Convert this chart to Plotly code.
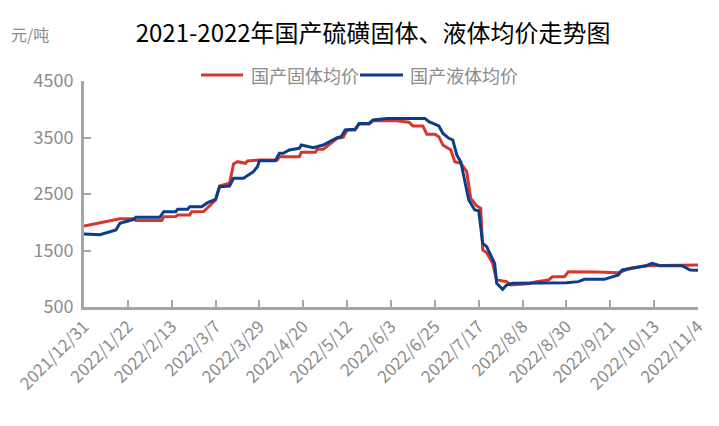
import plotly.graph_objects as go

# ---- data ----
solid_dates = ["2021-12-31", "2022-01-18", "2022-01-25", "2022-01-26", "2022-02-08", "2022-02-09",
               "2022-02-15", "2022-02-16", "2022-02-22", "2022-02-23", "2022-03-01", "2022-03-07",
               "2022-03-09", "2022-03-14", "2022-03-16", "2022-03-18", "2022-03-22", "2022-03-23",
               "2022-03-29", "2022-04-07", "2022-04-08", "2022-04-18", "2022-04-19", "2022-04-26",
               "2022-04-27", "2022-04-30", "2022-05-07", "2022-05-10", "2022-05-12", "2022-05-16",
               "2022-05-18", "2022-05-23", "2022-05-25", "2022-06-06", "2022-06-12", "2022-06-14",
               "2022-06-19", "2022-06-21", "2022-06-25", "2022-06-27", "2022-06-29", "2022-07-03",
               "2022-07-05", "2022-07-08", "2022-07-11", "2022-07-13", "2022-07-16", "2022-07-18",
               "2022-07-19", "2022-07-21", "2022-07-24", "2022-07-26", "2022-07-31", "2022-08-02",
               "2022-08-11", "2022-08-15", "2022-08-21", "2022-08-23", "2022-08-29", "2022-08-31",
               "2022-09-14", "2022-09-25", "2022-10-01", "2022-10-09", "2022-11-04"]
solid_values = [1935, 2060, 2060, 2030, 2030, 2098,
                2100, 2128, 2128, 2187, 2190, 2394,
                2641, 2689, 3031, 3072, 3043, 3084,
                3100, 3100, 3160, 3160, 3238, 3238,
                3291, 3291, 3486, 3503, 3633, 3633,
                3739, 3739, 3797, 3797, 3770, 3704,
                3704, 3557, 3557, 3514, 3367, 3279,
                3072, 3043, 2895, 2420, 2290, 2247,
                1509, 1461, 1273, 980, 950, 890,
                912, 949, 978, 1036, 1036, 1125,
                1120, 1107, 1185, 1231, 1245]

liquid_dates = ["2021-12-31", "2022-01-08", "2022-01-16", "2022-01-18", "2022-01-25", "2022-01-26",
                "2022-02-07", "2022-02-09", "2022-02-15", "2022-02-16", "2022-02-21", "2022-02-22",
                "2022-02-28", "2022-03-03", "2022-03-07", "2022-03-09", "2022-03-14", "2022-03-16",
                "2022-03-21", "2022-03-26", "2022-03-28", "2022-03-29", "2022-04-06", "2022-04-08",
                "2022-04-10", "2022-04-13", "2022-04-18", "2022-04-19", "2022-04-25", "2022-04-30",
                "2022-05-07", "2022-05-09", "2022-05-11", "2022-05-16", "2022-05-18", "2022-05-23",
                "2022-05-25", "2022-06-01", "2022-06-20", "2022-06-22", "2022-06-27", "2022-06-29",
                "2022-07-02", "2022-07-04", "2022-07-06", "2022-07-08", "2022-07-12", "2022-07-15",
                "2022-07-17", "2022-07-19", "2022-07-21", "2022-07-25", "2022-07-26", "2022-07-29",
                "2022-07-31", "2022-08-03", "2022-08-30", "2022-09-05", "2022-09-08", "2022-09-18",
                "2022-09-25", "2022-09-27", "2022-10-09", "2022-10-12", "2022-10-16", "2022-10-27",
                "2022-10-31", "2022-11-04"]
liquid_values = [1790, 1780, 1863, 1981, 2052, 2087,
                 2087, 2187, 2187, 2228, 2228, 2276,
                 2276, 2346, 2405, 2629, 2640, 2777,
                 2777, 2895, 2983, 3090, 3090, 3220,
                 3220, 3279, 3309, 3367, 3321, 3367,
                 3497, 3514, 3633, 3644, 3750, 3750,
                 3810, 3838, 3838, 3780, 3704, 3575,
                 3486, 3456, 3190, 3072, 2394, 2217,
                 2204, 1627, 1567, 1273, 919, 813,
                 889, 919, 930, 949, 990, 990,
                 1066, 1155, 1231, 1273, 1231, 1231,
                 1155, 1150]

tick_dates = ["2021-12-31", "2022-01-22", "2022-02-13", "2022-03-07", "2022-03-29",
              "2022-04-20", "2022-05-12", "2022-06-03", "2022-06-25", "2022-07-17",
              "2022-08-08", "2022-08-30", "2022-09-21", "2022-10-13", "2022-11-04"]
tick_labels = ["2021/12/31", "2022/1/22", "2022/2/13", "2022/3/7", "2022/3/29",
               "2022/4/20", "2022/5/12", "2022/6/3", "2022/6/25", "2022/7/17",
               "2022/8/8", "2022/8/30", "2022/9/21", "2022/10/13", "2022/11/4"]
y_ticks = [500, 1500, 2500, 3500, 4500]

series_names = ["国产固体均价", "国产液体均价"]
series_colors = ["#D7372B", "#0B3D8C"]
title_text = "2021-2022年国产硫磺固体、液体均价走势图"
unit_text = "元/吨"

# ---- figure ----
FONT = "Noto Sans CJK SC"
GRAY = "#8C8C8C"
AXIS = "#A6A6A6"

fig = go.Figure()
fig.add_trace(go.Scatter(x=solid_dates, y=solid_values, mode="lines", name=series_names[0],
                         line=dict(color=series_colors[0], width=3)))
fig.add_trace(go.Scatter(x=liquid_dates, y=liquid_values, mode="lines", name=series_names[1],
                         line=dict(color=series_colors[1], width=3)))

# legend drawn as shapes + text (positions in paper coordinates)
legend_line_x = [(0.1906, 0.2590), (0.4495, 0.5195)]
legend_text_x = [0.2687, 0.5277]
legend_y = 1.0265
shapes = []
annotations = []
for i in range(2):
    shapes.append(dict(type="line", xref="paper", yref="paper",
                       x0=legend_line_x[i][0], x1=legend_line_x[i][1], y0=legend_y, y1=legend_y,
                       line=dict(color=series_colors[i], width=3)))
    annotations.append(dict(text=series_names[i], xref="paper", yref="paper",
                            x=legend_text_x[i], y=legend_y, xanchor="left", yanchor="middle",
                            showarrow=False, font=dict(family=FONT, size=18, color=GRAY)))
annotations.append(dict(text=unit_text, xref="paper", yref="paper", x=-0.088, y=1.21,
                        xanchor="center", yanchor="middle", showarrow=False,
                        font=dict(family=FONT, size=16, color=GRAY)))

fig.update_layout(
    width=719, height=426,
    margin=dict(l=84, r=21, t=81, b=119),
    paper_bgcolor="white", plot_bgcolor="white",
    font=dict(family=FONT, color=GRAY, size=16),
    title=dict(text=title_text, x=0.519, xanchor="center", y=0.92, yanchor="middle",
               font=dict(family=FONT, size=24, color="#000000")),
    showlegend=False,
    xaxis=dict(type="date", range=[tick_dates[0], tick_dates[-1]],
               tickmode="array", tickvals=tick_dates, ticktext=tick_labels,
               tickangle=-45, tickfont=dict(family=FONT, size=17, color=GRAY),
               showline=True, linecolor=AXIS, linewidth=3,
               ticks="inside", ticklen=7, tickwidth=2, tickcolor=AXIS,
               showgrid=False, zeroline=False, fixedrange=True),
    yaxis=dict(range=[500, 4500], tickmode="array", tickvals=y_ticks,
               tickfont=dict(family=FONT, size=18, color=GRAY), ticklabelstandoff=4,
               showline=True, linecolor=AXIS, linewidth=3,
               ticks="inside", ticklen=7, tickwidth=2, tickcolor=AXIS,
               showgrid=False, zeroline=False, fixedrange=True),
    shapes=shapes,
    annotations=annotations,
)

fig.write_html("out.html", config={"displayModeBar": False})
